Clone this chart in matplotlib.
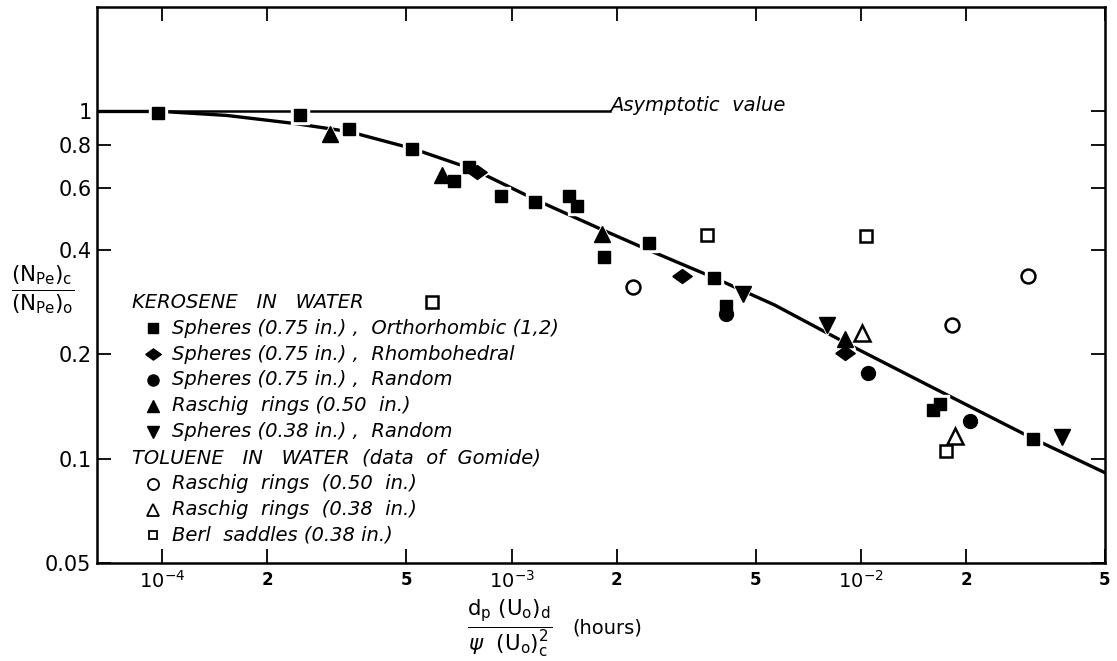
import numpy as np
import matplotlib
matplotlib.use("Agg")
import matplotlib.pyplot as plt
from matplotlib.ticker import FixedLocator, FixedFormatter, NullLocator

plt.rcParams['font.family'] = ['DejaVu Sans']
plt.rcParams['mathtext.fontset'] = 'dejavusans'

# correlation curve (fitted line through the data)
curve_x = [6.5e-5, 1.0e-4, 1.53e-4, 2.40e-4, 3.42e-4, 5.2e-4, 7.8e-4, 1.17e-3,
           1.82e-3, 2.42e-3, 3.82e-3, 5.66e-3, 9.4e-3, 1.80e-2, 3.12e-2, 5.0e-2]
curve_y = [1.0, 1.0, 0.974, 0.923, 0.875, 0.782, 0.680, 0.557,
           0.456, 0.402, 0.331, 0.277, 0.211, 0.151, 0.114, 0.091]

# asymptote at (N_Pe)c/(N_Pe)o = 1
asym_x = [6.5e-5, 1.91e-3]
asym_y = [1.0, 1.0]

# kerosene in water
sph075_orth_x = [9.7e-5, 2.48e-4, 3.42e-4, 5.2e-4, 6.84e-4, 7.55e-4, 9.3e-4, 1.17e-3,
                 1.46e-3, 1.54e-3, 1.84e-3, 2.47e-3, 3.79e-3, 4.12e-3, 1.61e-2,
                 1.69e-2, 3.12e-2]
sph075_orth_y = [0.99, 0.98, 0.89, 0.78, 0.63, 0.69, 0.57, 0.55,
                 0.57, 0.535, 0.38, 0.418, 0.331, 0.275, 0.138,
                 0.144, 0.114]
sph075_rhomb_x = [7.96e-4, 3.08e-3, 9.0e-3]
sph075_rhomb_y = [0.67, 0.336, 0.202]
sph075_rand_x = [4.12e-3, 1.05e-2, 2.06e-2]
sph075_rand_y = [0.261, 0.176, 0.128]
rasch050_x = [3.02e-4, 6.32e-4, 1.82e-3, 9.0e-3]
rasch050_y = [0.86, 0.658, 0.444, 0.221]
sph038_rand_x = [4.6e-3, 8.0e-3, 3.77e-2]
sph038_rand_y = [0.298, 0.242, 0.115]

# toluene in water (Gomide)
tol_rasch050_x = [2.22e-3, 1.82e-2, 3.01e-2]
tol_rasch050_y = [0.312, 0.242, 0.336]
tol_rasch038_x = [1.007e-2, 1.86e-2]
tol_rasch038_y = [0.230, 0.116]
tol_berl038_x = [5.93e-4, 3.63e-3, 1.035e-2, 1.75e-2]
tol_berl038_y = [0.282, 0.441, 0.438, 0.105]

x_major = [1e-4, 1e-3, 1e-2]
x_major_labels = [r'$10^{-4}$', r'$10^{-3}$', r'$10^{-2}$']
x_minor = [2e-4, 5e-4, 2e-3, 5e-3, 2e-2, 5e-2]
x_minor_labels = ['2', '5', '2', '5', '2', '5']
y_ticks = [0.05, 0.1, 0.2, 0.4, 0.6, 0.8, 1.0]
y_tick_labels = ['0.05', '0.1', '0.2', '0.4', '0.6', '0.8', '1']

flat_diamond = [(-1, 0), (0, 0.72), (1, 0), (0, -0.72), (-1, 0)]

# (label, marker, filled, size, x, y)
series = [
    ('Spheres (0.75 in.) ,  Orthorhombic (1,2)', 's', True, 9, sph075_orth_x, sph075_orth_y),
    ('Spheres (0.75 in.) ,  Rhombohedral', flat_diamond, True, 14, sph075_rhomb_x, sph075_rhomb_y),
    ('Spheres (0.75 in.) ,  Random', 'o', True, 10, sph075_rand_x, sph075_rand_y),
    ('Raschig  rings (0.50  in.)', '^', True, 11, rasch050_x, rasch050_y),
    ('Spheres (0.38 in.) ,  Random', 'v', True, 11, sph038_rand_x, sph038_rand_y),
    ('Raschig  rings  (0.50  in.)', 'o', False, 10, tol_rasch050_x, tol_rasch050_y),
    ('Raschig  rings  (0.38  in.)', '^', False, 11, tol_rasch038_x, tol_rasch038_y),
    ('Berl  saddles (0.38 in.)', 's', False, 8, tol_berl038_x, tol_berl038_y),
]

fig = plt.figure(figsize=(11.17, 6.61), dpi=100)
ax = fig.add_axes([97 / 1117, 1 - 563 / 661, 1008 / 1117, 556 / 661])
ax.set_xscale('log')
ax.set_yscale('log')
ax.set_xlim(6.5e-5, 5e-2)
ax.set_ylim(0.05, 2.0)

ax.plot(asym_x, asym_y, color='black', lw=1.8, zorder=2)
ax.plot(curve_x, curve_y, color='black', lw=2.4, zorder=2)
ax.text(asym_x[-1], 1.0, 'Asymptotic  value', style='italic', fontsize=14,
        ha='left', va='baseline')

for label, mk, filled, ms, xs, ys in series:
    if filled:
        # white halo so the curve breaks around each symbol
        ax.plot(xs, ys, ls='none', marker=mk, ms=ms + 4, color='white', zorder=3)
        ax.plot(xs, ys, ls='none', marker=mk, ms=ms, color='black', zorder=4)
    else:
        ax.plot(xs, ys, ls='none', marker=mk, ms=ms, mfc='white', mec='black',
                mew=1.8, zorder=4)

# key drawn inside the axes
head_x, mark_x, text_x = 0.035, 0.056, 0.074
row_y0, row_dy = 0.469, 0.0466
rows = [('KEROSENE   IN   WATER', None)] + [(s, s) for s in series[:5]] + \
       [('TOLUENE   IN   WATER  (data  of  Gomide)', None)] + [(s, s) for s in series[5:]]
for i, (item, s) in enumerate(rows):
    y = row_y0 - i * row_dy
    if s is None:
        ax.text(head_x, y, item, transform=ax.transAxes, style='italic',
                fontsize=14, va='center', ha='left')
        continue
    label, mk, filled, ms, _, _ = s
    if filled:
        ax.plot([mark_x], [y], transform=ax.transAxes, marker=mk, ms=ms * 0.8,
                color='black', ls='none', clip_on=False)
    else:
        ax.plot([mark_x], [y], transform=ax.transAxes, marker=mk, ms=ms * 0.8,
                mfc='white', mec='black', mew=1.3, ls='none', clip_on=False)
    ax.text(text_x, y, label, transform=ax.transAxes, style='italic',
            fontsize=14, va='center', ha='left')

ax.xaxis.set_major_locator(FixedLocator(x_major))
ax.xaxis.set_major_formatter(FixedFormatter(x_major_labels))
ax.xaxis.set_minor_locator(FixedLocator(x_minor))
ax.xaxis.set_minor_formatter(FixedFormatter(x_minor_labels))
ax.yaxis.set_major_locator(FixedLocator(y_ticks))
ax.yaxis.set_major_formatter(FixedFormatter(y_tick_labels))
ax.yaxis.set_minor_locator(NullLocator())

ax.tick_params(which='both', direction='in', top=True, right=True,
               length=10, width=1.3)
ax.tick_params(axis='x', which='major', labelsize=14, pad=5)
ax.tick_params(axis='x', which='minor', labelsize=12, pad=6)
ax.tick_params(axis='y', labelsize=15, pad=4)
for lab in ax.get_xticklabels(minor=True):
    lab.set_fontweight('bold')
for sp in ax.spines.values():
    sp.set_linewidth(1.8)

fig.text(43 / 1117, 1 - 290 / 661, r'$\frac{(\mathrm{N}_{\mathrm{Pe}})_\mathrm{c}}{(\mathrm{N}_{\mathrm{Pe}})_\mathrm{o}}$',
         fontsize=22, ha='center', va='center')
fig.text(510 / 1117, 1 - 628 / 661,
         r'$\frac{\mathrm{d}_\mathrm{p}\ (\mathrm{U}_\mathrm{o})_\mathrm{d}}{\psi\ \ (\mathrm{U}_\mathrm{o})_\mathrm{c}^{2}}$',
         fontsize=22, ha='center', va='center')
fig.text(572 / 1117, 1 - 628 / 661, '(hours)', fontsize=14, ha='left', va='center')

fig.savefig('out.png', dpi=100)
